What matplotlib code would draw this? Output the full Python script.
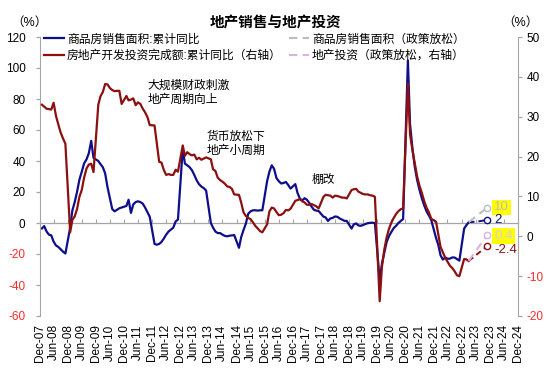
"""
地产销售与地产投资 -- cumulative YoY of commodity-housing sales area (left axis)
and real-estate development investment (right axis), with dashed policy
scenarios to Dec-2023.
"""

import matplotlib

matplotlib.use("Agg")
import matplotlib.dates as mdates
import matplotlib.pyplot as plt
import pandas as pd

plt.rcParams["font.family"] = ["Liberation Sans", "Noto Sans CJK SC"]
plt.rcParams["axes.unicode_minus"] = False

# ---------------------------------------------------------------------------
# Data: cumulative YoY (%), Jan-Feb reported together so each year is Feb..Dec
# ---------------------------------------------------------------------------

sales_area = [
    -3.5, -2.0, -5.5, -7.5, -8.0, -12.0, -14.5, -15.5, -17.0, -18.5, -19.7,  # 2008
    -3.0, 8.0, 13.5, 20.0, 28.0, 33.0, 38.5, 41.0, 45.0, 53.0, 42.0,  # 2009
    40.0, 38.0, 36.0, 32.0, 23.0, 16.0, 9.0, 7.5, 8.5, 9.5, 10.0,  # 2010
    11.0, 15.0, 6.5, 12.0, 13.5, 14.0, 13.5, 12.5, 10.0, 7.0, 4.0,  # 2011
    -13.5, -14.0, -13.5, -12.2, -10.0, -7.5, -5.5, -4.2, -3.0, 1.0, 2.2,  # 2012
    48.0, 38.3, 37.2, 36.0, 34.0, 31.0, 27.5, 25.0, 23.5, 22.5, 21.0,  # 2013
    0.0, -3.0, -5.5, -6.5, -6.5, -7.5, -8.3, -8.6, -8.2, -8.0, -7.8,  # 2014
    -16.0, -9.2, -4.5, -0.4, 6.0, 7.5, 8.2, 8.2, 8.0, 8.2, 8.2,  # 2015
    27.0, 33.0, 37.2, 35.0, 29.0, 27.0, 25.5, 25.8, 26.5, 24.5, 22.2,  # 2016
    25.1, 19.5, 15.7, 14.5, 16.0, 15.0, 13.0, 10.5, 8.5, 8.0, 7.7,  # 2017
    4.1, 3.6, 1.3, 2.9, 3.3, 4.2, 4.0, 2.9, 2.2, 1.4, 1.3,  # 2018
    -3.6, -0.9, -0.3, -1.6, -1.8, -1.3, -0.6, -0.1, 0.1, 0.2, -0.1,  # 2019
    -37.0, -26.3, -19.3, -12.3, -8.4, -5.8, -3.3, -1.8, 0.0, 1.3, 2.6,  # 2020
    104.9, 63.8, 48.1, 36.3, 27.7, 21.5, 15.9, 11.3, 7.5, 4.8, 1.9,  # 2021
    -9.6, -13.8, -20.9, -23.6, -22.2, -23.1, -23.0, -22.2, -22.3, -23.3, -24.3,  # 2022
    -3.6, -1.5, 0.5,  # 2023
]

investment = [
    33.0, 32.5, 32.0, 31.9, 31.8, 33.5, 30.2, 28.0, 26.0, 24.5, 23.2,  # 2008
    1.0, 4.1, 5.0, 6.8, 9.9, 11.6, 14.7, 17.0, 18.0, 18.2, 16.1,  # 2009
    33.0, 35.1, 36.2, 38.2, 38.1, 37.2, 36.7, 36.4, 36.5, 36.5, 33.2,  # 2010
    35.2, 34.1, 34.3, 34.6, 32.9, 33.6, 33.2, 32.0, 31.1, 29.9, 27.9,  # 2011
    27.8, 23.5, 18.7, 18.5, 16.6, 15.4, 15.6, 15.4, 15.4, 16.7, 16.2,  # 2012
    22.8, 20.2, 21.1, 20.6, 20.3, 20.5, 19.3, 19.7, 19.2, 19.5, 19.8,  # 2013
    19.3, 16.8, 16.4, 14.7, 14.1, 13.7, 13.2, 12.5, 12.4, 11.9, 10.5,  # 2014
    10.4, 8.5, 6.0, 5.1, 4.6, 4.3, 3.5, 2.6, 2.0, 1.3, 1.0,  # 2015
    3.0, 6.2, 7.2, 7.0, 6.1, 5.3, 5.4, 5.8, 6.6, 6.5, 6.9,  # 2016
    8.9, 9.1, 9.3, 8.8, 8.5, 7.9, 7.9, 8.1, 7.8, 7.5, 7.0,  # 2017
    9.9, 10.4, 10.3, 10.2, 9.7, 10.2, 10.1, 9.9, 9.7, 9.7, 9.5,  # 2018
    11.6, 11.8, 11.9, 11.2, 10.9, 10.6, 10.5, 10.5, 10.3, 10.2, 9.9,  # 2019
    -16.3, -7.7, -3.3, -0.3, 1.9, 3.4, 4.6, 5.6, 6.3, 6.8, 7.0,  # 2020
    38.3, 25.6, 21.6, 18.3, 15.0, 12.7, 10.9, 8.8, 7.2, 6.0, 4.4,  # 2021
    3.7, 0.7, -2.7, -4.0, -5.4, -6.4, -7.4, -8.0, -8.8, -9.8, -10.0,  # 2022
    -5.7, -5.8, -6.2,  # 2023
]

# scenario paths, Apr-2023 -> Dec-2023
proj_dates = ["2023-04-01", "2023-12-01"]
sales_base_dates = ["2023-04-01", "2023-08-01", "2023-12-01"]
sales_base = [0.5, 1.0, 2.0]
sales_policy = [0.5, 10.0]
invest_base = [-6.2, -2.4]
invest_policy = [-6.2, 0.4]

legend_labels = [
    "商品房销售面积:累计同比",
    "房地产开发投资完成额:累计同比（右轴）",
    "商品房销售面积（政策放松）",
    "地产投资（政策放松，右轴）",
]

left_ticks = [-60, -40, -20, 0, 20, 40, 60, 80, 100, 120]
right_ticks = [-20, -10, 0, 10, 20, 30, 40, 50]

NAVY = "#0E0E8C"
DARK_RED = "#8C1010"
GRAY = "#BDBDBD"
LAVENDER = "#D9B3E3"
AXIS_GRAY = "#A6A6A6"
NEG_RED = "#FF2A2A"
FS = 8.5


def month_axis(n):
    """Feb..Dec of each year from 2008, first n points."""
    out = [pd.Timestamp(y, m, 1) for y in range(2008, 2024) for m in range(2, 13)]
    return out[:n]


def main():
    fig = plt.figure(figsize=(5.5, 3.76), dpi=100)
    ax = fig.add_axes([39.5 / 550, 1 - 316 / 376, (518 - 39.5) / 550, (316 - 37) / 376])
    ax2 = ax.twinx()

    x_sales = month_axis(len(sales_area))
    x_inv = month_axis(len(investment))
    pdates = pd.to_datetime(proj_dates)
    bdates = pd.to_datetime(sales_base_dates)

    h1, = ax.plot(x_sales, sales_area, color=NAVY, lw=1.6)
    ax.plot(bdates, sales_base, color=NAVY, lw=1.4, ls=(0, (3, 2)))
    h3, = ax.plot(pdates, sales_policy, color=GRAY, lw=1.5, ls=(0, (4, 2.5)))
    h2, = ax2.plot(x_inv, investment, color=DARK_RED, lw=1.6)
    ax2.plot(pdates, invest_base, color=DARK_RED, lw=1.4, ls=(0, (3, 2)))
    h4, = ax2.plot(pdates, invest_policy, color=LAVENDER, lw=1.5, ls=(0, (4, 2.5)))

    # open circles + value tags at Dec-2023
    ends = [
        (ax, sales_policy[-1], GRAY, GRAY, "#FFFF00", 0),
        (ax, sales_base[-1], NAVY, NAVY, None, 0),
        (ax2, invest_policy[-1], LAVENDER, "#D8CCE6", "#FFFF00", -1),
        (ax2, invest_base[-1], DARK_RED, DARK_RED, None, -3),
    ]
    for a, v, mc, tc, bg, dy in ends:
        a.plot(pdates[-1], v, "o", ms=4.5, mfc="white", mec=mc, mew=1)
        a.annotate(
            f"{v:g}", (pdates[-1], v), xytext=(5, dy), textcoords="offset points",
            ha="left", va="center", fontsize=9.5, color=tc,
            bbox=dict(boxstyle="square,pad=0.15", fc=bg, ec="none") if bg else None,
        )

    # x axis: labels along the bottom, axis line with ticks at zero
    tick_dates = pd.date_range("2007-12-01", "2024-12-01", freq="6MS") + pd.offsets.MonthEnd(0)
    tick_pos = mdates.date2num(tick_dates.to_pydatetime())
    ax.set_xlim(tick_pos[0], tick_pos[-1])
    ax.set_xticks(tick_pos)
    ax.set_xticklabels([d.strftime("%b-%y") for d in tick_dates], rotation=90, fontsize=FS)
    ax.tick_params(axis="x", length=0, pad=6)

    zero = ax.secondary_xaxis(60 / 180)
    zero.set_xticks(tick_pos)
    zero.tick_params(direction="in", length=3, color=AXIS_GRAY, labelbottom=False, labeltop=False)
    for s in zero.spines.values():
        s.set_color(AXIS_GRAY)
        s.set_linewidth(0.9)

    ax.set_ylim(-60, 120)
    ax.set_yticks(left_ticks)
    ax.set_yticklabels([str(v) for v in left_ticks], fontsize=FS)
    ax2.set_ylim(-20, 50)
    ax2.set_yticks(right_ticks)
    ax2.set_yticklabels([str(v) for v in right_ticks], fontsize=FS)
    for a, ticks in ((ax, left_ticks), (ax2, right_ticks)):
        for lab, v in zip(a.get_yticklabels(), ticks):
            lab.set_color(NEG_RED if v < 0 else "black")
        a.tick_params(axis="y", length=3, color=AXIS_GRAY, width=0.9)
        for side in ("top", "bottom"):
            a.spines[side].set_visible(False)
    ax.tick_params(axis="y", pad=7)
    ax2.tick_params(axis="y", pad=3)
    ax.spines["right"].set_visible(False)
    ax2.spines["left"].set_visible(False)
    ax.spines["left"].set_color(AXIS_GRAY)
    ax2.spines["right"].set_color(AXIS_GRAY)

    # annotations
    notes = [
        ("2011-10-28", 84, "大规模财政刺激\n地产周期向上"),
        ("2013-12-12", 51, "货币放松下\n地产小周期"),
        ("2017-08-31", 27.5, "棚改"),
    ]
    for d, y, t in notes:
        ax.text(pd.Timestamp(d), y, t, fontsize=FS, ha="left", va="center", linespacing=1.25)

    fig.legend(
        [h1, h2, h3, h4], legend_labels, ncol=2, loc="upper left",
        bbox_to_anchor=(44 / 550, 1 - 33.5 / 376), frameon=False, fontsize=FS,
        handlelength=1.7, handletextpad=0.25, columnspacing=0.6,
        labelspacing=0.38, borderpad=0, borderaxespad=0,
    )

    fig.text(275.8 / 550, 1 - 23 / 376, "地产销售与地产投资", ha="center", va="center",
             fontsize=10.5, fontweight="bold")
    fig.text(29 / 550, 1 - 23 / 376, "（%）", ha="center", va="center", fontsize=9)
    fig.text(520.5 / 550, 1 - 23 / 376, "（%）", ha="center", va="center", fontsize=9)

    fig.savefig("out.png", dpi=100)
    plt.close(fig)


if __name__ == "__main__":
    main()
